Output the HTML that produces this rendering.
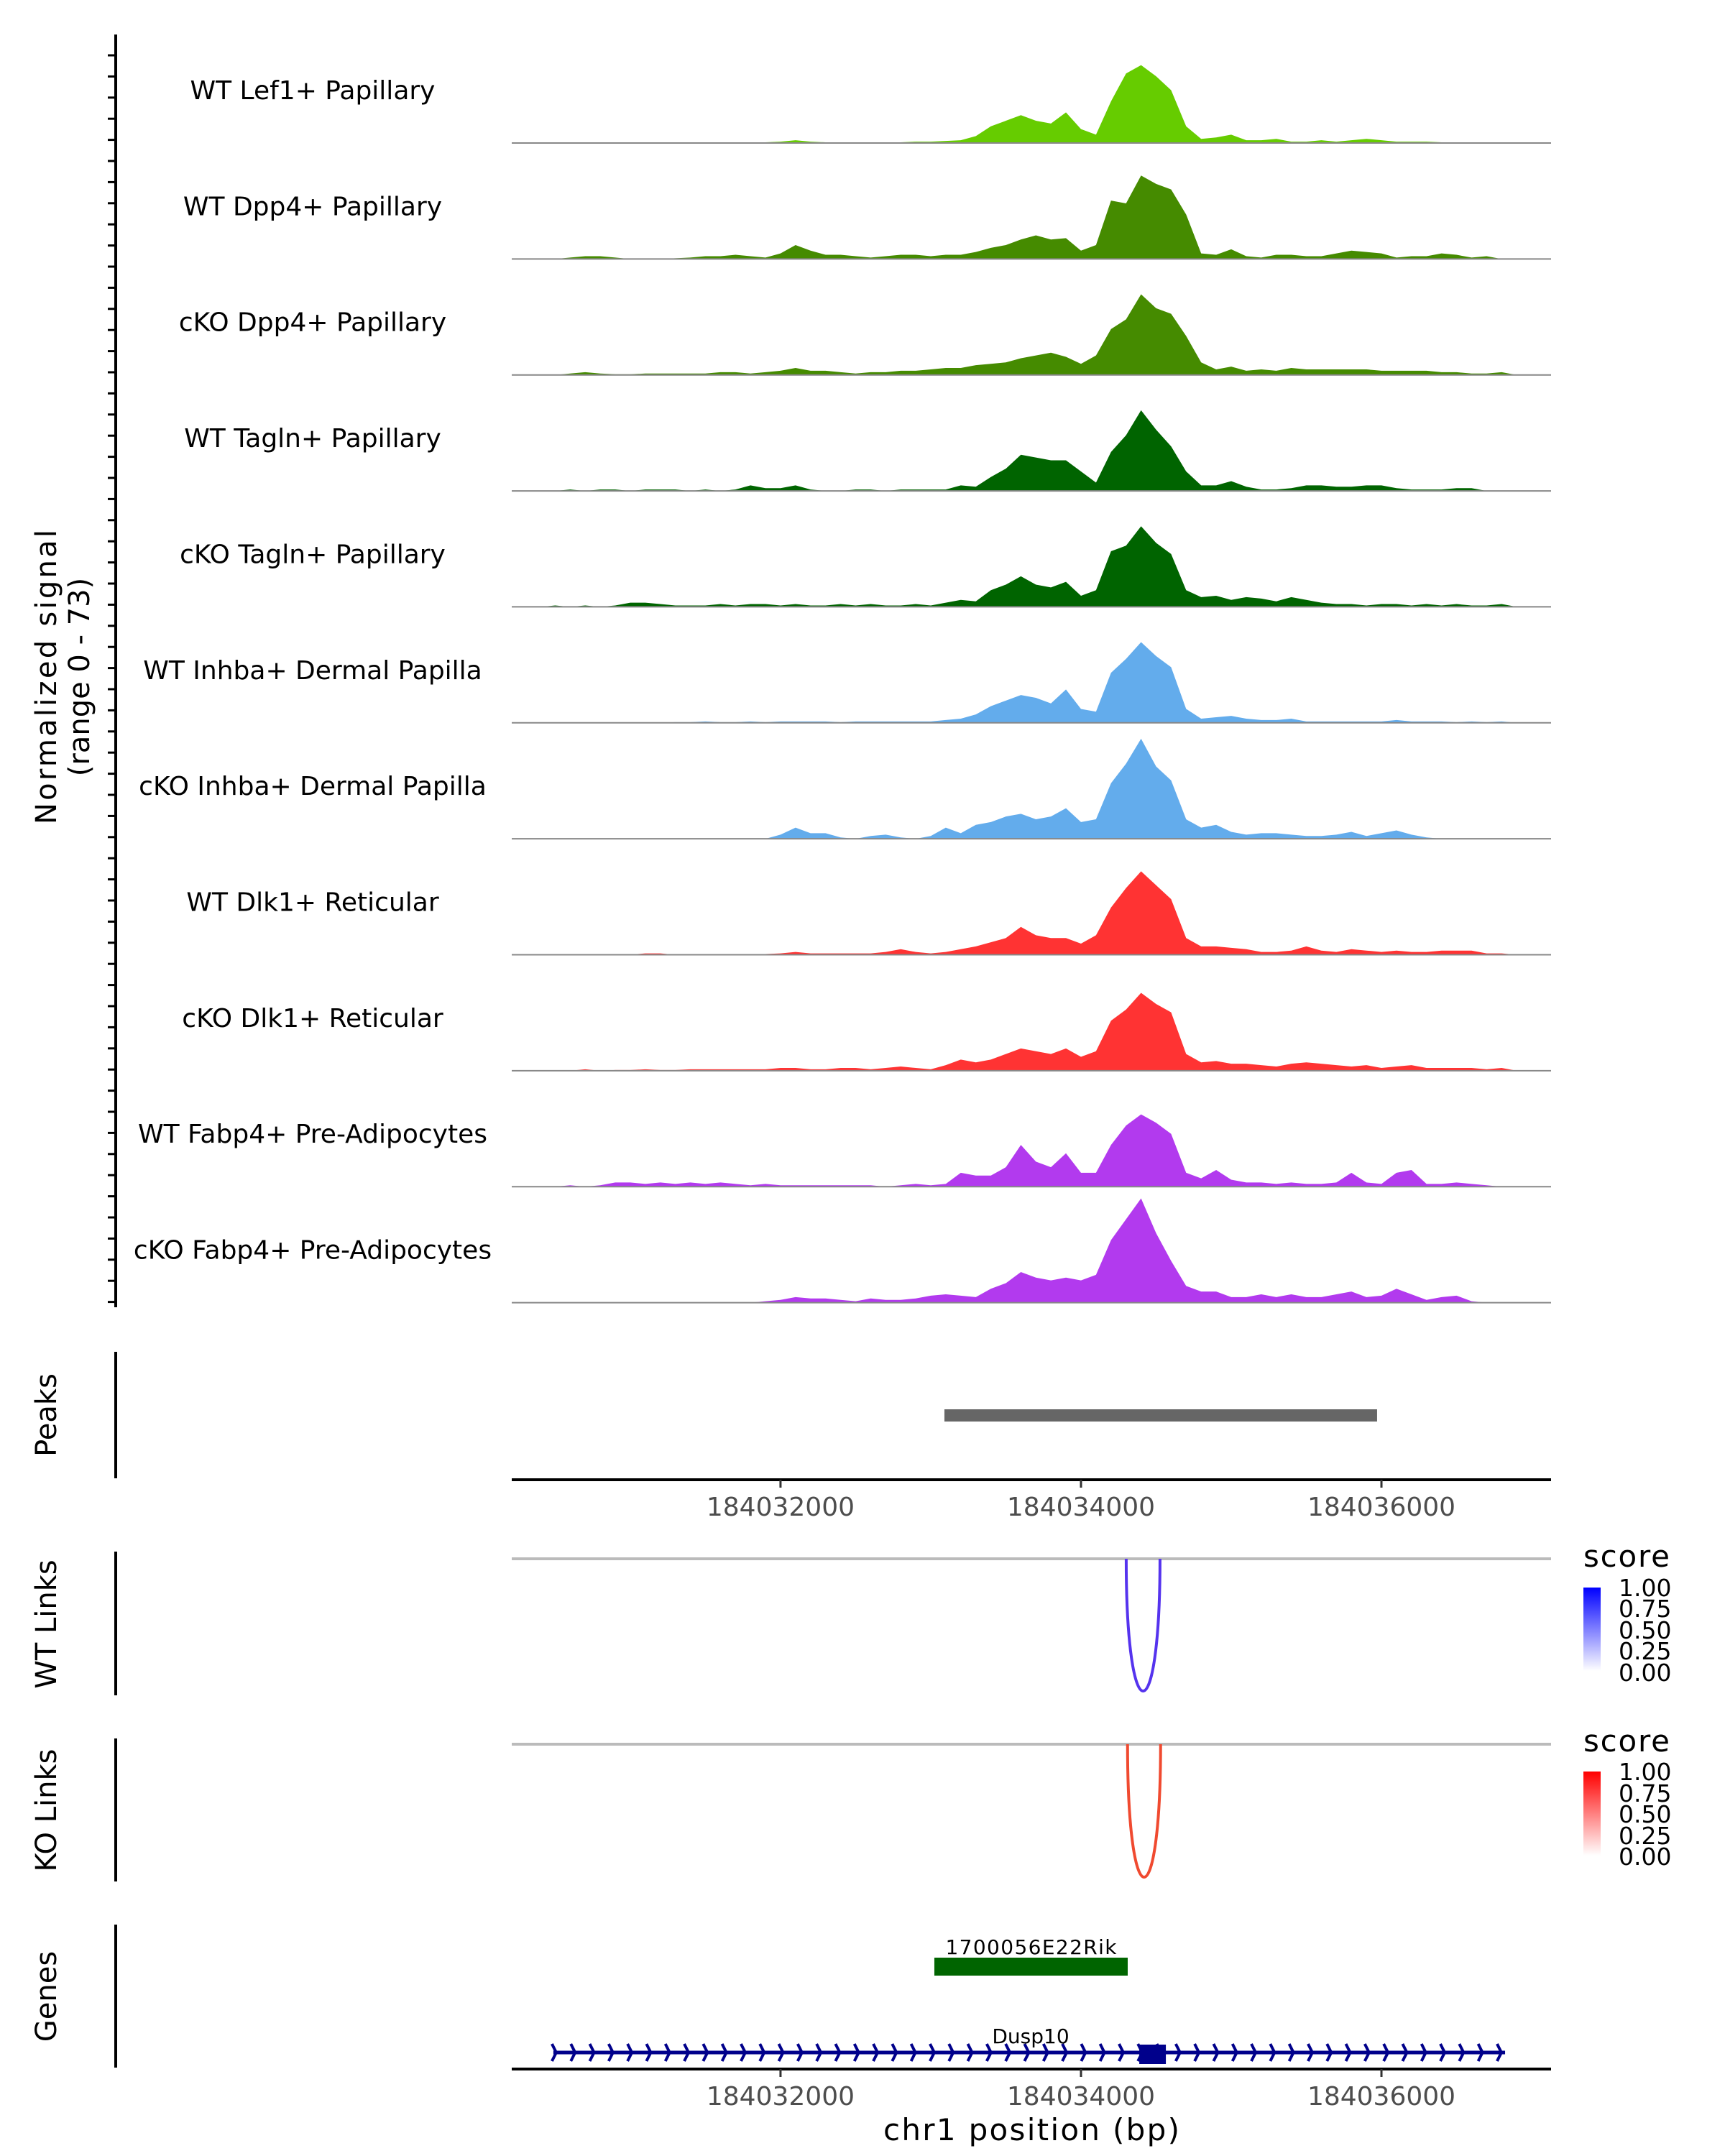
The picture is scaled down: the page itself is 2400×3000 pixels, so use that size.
<!DOCTYPE html>
<html><head><meta charset="utf-8"><style>
html,body{margin:0;padding:0;background:#fff;}
svg{display:block;font-family:"DejaVu Sans","Liberation Sans",sans-serif;}
</style></head><body>
<svg id="chart" width="2400" height="3000" viewBox="0 0 2400 3000" xmlns="http://www.w3.org/2000/svg">
<g id="tracks"></g>
<line x1="161" y1="48" x2="161" y2="1819" stroke="#000" stroke-width="4"/>
<g id="yticks"></g>
<text transform="translate(78,942) rotate(-90)" text-anchor="middle" font-size="40" textLength="410">Normalized signal</text>
<text transform="translate(124,942) rotate(-90)" text-anchor="middle" font-size="40">(range 0 - 73)</text>

<line x1="161" y1="1881" x2="161" y2="2057" stroke="#000" stroke-width="4"/>
<text transform="translate(78,1969) rotate(-90)" text-anchor="middle" font-size="40">Peaks</text>
<g id="peaks"></g>
<g id="axis1"></g>

<line x1="161" y1="2159" x2="161" y2="2359" stroke="#000" stroke-width="4"/>
<text transform="translate(78,2260) rotate(-90)" text-anchor="middle" font-size="40">WT Links</text>
<line x1="712" y1="2169" x2="2158" y2="2169" stroke="#bbb" stroke-width="4"/>
<g id="wtlinks"></g>

<line x1="161" y1="2419" x2="161" y2="2618" stroke="#000" stroke-width="4"/>
<text transform="translate(78,2519) rotate(-90)" text-anchor="middle" font-size="40">KO Links</text>
<line x1="712" y1="2427" x2="2158" y2="2427" stroke="#bbb" stroke-width="4"/>
<g id="kolinks"></g>

<defs>
<linearGradient id="gb" x1="0" y1="1" x2="0" y2="0"><stop offset="0" stop-color="#fff"/><stop offset="1" stop-color="#0000ff"/></linearGradient>
<linearGradient id="gr" x1="0" y1="1" x2="0" y2="0"><stop offset="0" stop-color="#fff"/><stop offset="1" stop-color="#ff0000"/></linearGradient>
</defs>
<g>
<text x="2203" y="2180" font-size="42" textLength="120">score</text>
<rect x="2203" y="2209" width="24" height="116" fill="url(#gb)"/>
<g font-size="33">
<text x="2252" y="2221">1.00</text><text x="2252" y="2250">0.75</text><text x="2252" y="2280">0.50</text><text x="2252" y="2309">0.25</text><text x="2252" y="2339">0.00</text></g>
</g>
<g>
<text x="2203" y="2437" font-size="42" textLength="120">score</text>
<rect x="2203" y="2465" width="24" height="117" fill="url(#gr)"/>
<g font-size="33">
<text x="2252" y="2477">1.00</text><text x="2252" y="2507">0.75</text><text x="2252" y="2536">0.50</text><text x="2252" y="2566">0.25</text><text x="2252" y="2595">0.00</text></g>
</g>

<line x1="161" y1="2678" x2="161" y2="2877" stroke="#000" stroke-width="4"/>
<text transform="translate(78,2778) rotate(-90)" text-anchor="middle" font-size="40">Genes</text>
<g id="genes"></g>
<g id="axis2"></g>
<text x="1435" y="2978" text-anchor="middle" font-size="42" textLength="412">chr1 position (bp)</text>
</svg>
<script>
const trackNames = ["WT Lef1+ Papillary","WT Dpp4+ Papillary","cKO Dpp4+ Papillary","WT Tagln+ Papillary","cKO Tagln+ Papillary","WT Inhba+ Dermal Papilla","cKO Inhba+ Dermal Papilla","WT Dlk1+ Reticular","cKO Dlk1+ Reticular","WT Fabp4+ Pre-Adipocytes","cKO Fabp4+ Pre-Adipocytes"];
const trackColors = ["#66cc00","#458b00","#458b00","#006400","#006400","#63acec","#63acec","#ff3333","#ff3333","#b23aee","#b23aee"];
const binStart = 184030300;
const binSize = 100;
const sigLef1WT = [0,0,0,0,0,0,0,0,0,0,0,0,0,0,0,0,0.5,1,2,1,0.5,0.5,0.5,0.5,0.5,0.5,1,1,1.5,2,5,12,16,20,16,14,22,10,6,30,50,56,48,38,12,3,4,6,2,2,3,1,1,2,1,2,3,2,1,1,1,0.5,0.5,0,0,0,0];
const sigDpp4WT = [0,0,0,1,2,2,1,0,0,0,0.5,1,2,2,3,2,1,4,10,6,3,3,2,1,2,3,3,2,3,3,5,8,10,14,17,14,15,6,10,42,40,60,54,50,32,4,3,7,2,1,3,3,2,2,4,6,5,4,1,2,2,4,3,1,2,0,0];
const sigDpp4KO = [0,0,0,1,2,1,0.5,0.5,1,1,1,1,1,2,2,1,2,3,5,3,3,2,1,2,2,3,3,4,5,5,7,8,9,12,14,16,13,8,14,33,40,58,48,44,28,9,4,6,3,4,3,5,4,4,4,4,4,3,3,3,3,2,2,1,1,2,0];
const sigTaglnWT = [0,0,0,1,0,1,1,0,1,1,1,0,1,0,1,4,2,2,4,1,0,0,1,1,0,1,1,1,1,4,3,10,16,26,24,22,22,14,6,28,40,58,44,32,14,4,4,7,3,1,1,2,4,4,3,3,4,4,2,1,1,1,2,2,0,0,0];
const sigTaglnKO = [0,0,1,0,1,0,1,3,3,2,1,1,1,2,1,2,2,1,2,1,1,2,1,2,1,1,2,1,3,5,4,12,16,22,16,14,18,8,12,40,44,58,46,38,12,7,8,5,7,6,4,7,5,3,2,2,1,2,2,1,2,1,2,1,1,2,0];
const sigInhbaWT = [0,0,0,0,0,0,0,0,0,0,0.5,0.5,1,0.5,0.5,1,0.5,1,1,1,1,0.5,1,1,1,1,1,1,2,3,6,12,16,20,18,14,24,10,8,36,46,58,48,40,10,3,4,5,3,2,2,3,1,1,1,1,1,1,2,1,1,1,0.5,1,0.5,1,0];
const sigInhbaKO = [0,0,0,0,0,0,0,0,0,0,0,0,0,0,0,0,0,3,8,4,4,1,0,2,3,1,0,2,8,4,10,12,16,18,14,16,22,12,14,40,54,72,52,42,14,8,10,5,3,4,4,3,2,2,3,5,2,4,6,3,1,0,0,0,0,0,0];
const sigDlk1WT = [0,0,0,0,0,0,0,0,1,1,0,0,0.5,0.5,0,0,0.5,1,2,1,1,1,1,1,2,4,2,1,2,4,6,9,12,20,14,12,12,8,14,34,48,60,50,40,12,6,6,5,4,2,2,3,6,3,2,4,3,2,3,2,2,3,3,3,1,1,0];
const sigDlk1KO = [0,0,0,0,1,0,0.5,0.5,1,0.5,0.5,1,1,1,1,1,1,2,2,1,1,2,2,1,2,3,2,1,4,8,6,8,12,16,14,12,16,10,14,36,44,56,48,42,12,6,7,5,5,4,3,5,6,5,4,3,4,2,3,4,2,2,2,2,1,2,0];
const sigFabp4WT = [0,0,0,1,0,1,3,3,2,3,2,3,2,3,2,1,2,1,1,1,1,1,1,1,0,1,2,1,2,10,8,8,14,30,18,14,24,10,10,30,44,52,46,38,10,6,12,5,3,3,2,3,2,2,3,10,3,2,10,12,2,2,3,2,1,0,0];
const sigFabp4KO = [0,0,0,0,0,0,0,0,0,0,0,0,0,0,0,0,1,2,4,3,3,2,1,3,2,2,3,5,6,5,4,10,14,22,18,16,18,16,20,45,60,75,50,30,12,8,8,4,4,6,4,6,4,4,6,8,4,5,10,6,2,4,5,1,0,0,0];
const signals = [sigLef1WT,sigDpp4WT,sigDpp4KO,sigTaglnWT,sigTaglnKO,sigInhbaWT,sigInhbaKO,sigDlk1WT,sigDlk1KO,sigFabp4WT,sigFabp4KO];
const xTicks = [184032000,184034000,184036000];
const peakRanges = [[184033091,184035971]];
const wtLinks = [[184034301,184034526,1.0]];
const koLinks = [[184034310,184034530,1.0]];
const geneNames = ["1700056E22Rik","Dusp10"];
const geneStarts = [184033024,184030488];
const geneEnds = [184034311,184036823];
const dusp10Exons = [[184034388,184034565]];

const NS="http://www.w3.org/2000/svg";
const X0=712,X1=2158,BP0=184030211,BP1=184037129;
function xs(bp){return X0+(bp-BP0)*(X1-X0)/(BP1-BP0);}
const trackH=161.6, yUnit=1.935;
function el(tag,attrs,parent){const e=document.createElementNS(NS,tag);for(const k in attrs)e.setAttribute(k,attrs[k]);parent.appendChild(e);return e;}

const tracks=document.getElementById('tracks');
signals.forEach((s,t)=>{
  const base=199+t*trackH*0.9985;
  let d=`M${xs(binStart)},${base}`;
  s.forEach((v,i)=>{const x=xs(binStart+i*binSize);d+=` L${x},${base-v*yUnit}`;});
  d+=` L${xs(binStart+(s.length-1)*binSize)},${base} Z`;
  const p=el('path',{d:d,fill:trackColors[t]},tracks);
  
  
  const bl=el('line',{x1:X0,x2:X1,y1:base,y2:base,stroke:'#888','stroke-width':2},tracks);
  
  
  const tx=el('text',{x:435,y:base-61,'text-anchor':'middle','font-size':36},tracks);
  tx.textContent=trackNames[t];
  
  
});
const yt=document.getElementById('yticks');
for(let y=77;y<1815;y+=29.4){
  const l=el('line',{x1:150,x2:161,y1:y,y2:y,stroke:'#000','stroke-width':3},yt);
  
  
}
const pk=document.getElementById('peaks');
peakRanges.forEach(r=>{
  const rc=el('rect',{x:xs(r[0]),y:1961,width:xs(r[1])-xs(r[0]),height:17,fill:'#666'},pk);
  
  
});
function axis(id,y){
  const g=document.getElementById(id);
  const al=el('line',{x1:X0,x2:X1,y1:y,y2:y,stroke:'#000','stroke-width':4},g);
  
  
  xTicks.forEach(v=>{
    const tl=el('line',{x1:xs(v),x2:xs(v),y1:y,y2:y+11,stroke:'#333','stroke-width':3},g);
    
    
    const tt=el('text',{x:xs(v),y:y+50,'text-anchor':'middle','font-size':36,fill:'#4d4d4d'},g);
    tt.textContent=String(v);
    
    
  });
}
axis('axis1',2059);
axis('axis2',2879);
function links(id,arr,top,bottom,color){
  const g=document.getElementById(id);
  arr.forEach(l=>{
    const a=xs(l[0]),b=xs(l[1]);const cy=top+(bottom-top)*4/3;
    const p=el('path',{d:`M${a},${top} C${a},${cy} ${b},${cy} ${b},${top}`,fill:'none',stroke:color,'stroke-width':4},g);
    
    
  });
}
links('wtlinks',wtLinks,2169,2353,'#5533ee');
links('kolinks',koLinks,2427,2612,'#f04a30');

const gg=document.getElementById('genes');
{
  const a=xs(geneStarts[0]),b=xs(geneEnds[0]);
  const r=el('rect',{x:a,y:2724,width:b-a,height:25,fill:'#006400'},gg);
  
  
  const t=el('text',{x:(a+b)/2,y:2719,'text-anchor':'middle','font-size':28,textLength:238},gg);
  t.textContent=geneNames[0];
  
  
}
{
  const a=xs(geneStarts[1]),b=xs(geneEnds[1]);
  const ln=el('line',{x1:a,x2:b,y1:2856,y2:2856,stroke:'#00008b','stroke-width':5},gg);
  
  
  let d='';
  for(let x=a+4;x<=b;x+=26.3){d+=`M${x-6},${2844} L${x},${2856} L${x-6},${2868} `;}
  const ch=el('path',{d:d,fill:'none',stroke:'#00008b','stroke-width':4},gg);
  
  
  dusp10Exons.forEach(e=>{
    const r=el('rect',{x:xs(e[0]),y:2845,width:xs(e[1])-xs(e[0]),height:27,fill:'#00008b'},gg);
    
    
  });
  const t=el('text',{x:1434,y:2843,'text-anchor':'middle','font-size':28},gg);
  t.textContent=geneNames[1];
  
  
}
</script>
</body></html>
